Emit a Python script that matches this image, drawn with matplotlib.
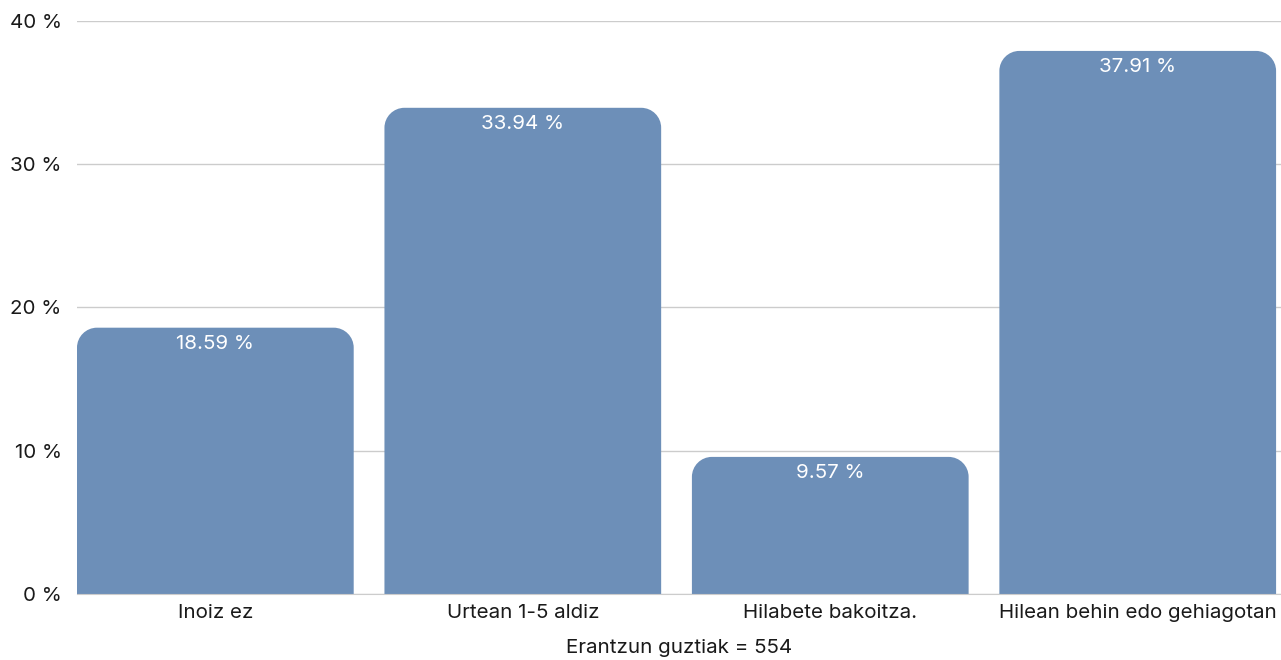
import matplotlib
matplotlib.use("Agg")
import matplotlib.pyplot as plt
from matplotlib.path import Path
from matplotlib.patches import PathPatch

categories = ["Inoiz ez", "Urtean 1-5 aldiz", "Hilabete bakoitza.", "Hilean behin edo gehiagotan"]
values = [18.59, 33.94, 9.57, 37.91]
yticks = [0, 10, 20, 30, 40]
xlabel = "Erantzun guztiak = 554"

plt.rcParams['font.family'] = ['Inter', 'DejaVu Sans']

bar_color = '#6d8fb8'
text_color = '#1a1a1a'
fs = 14.8
fig = plt.figure(figsize=(12.81, 6.6), dpi=100)
ax = fig.add_axes([0.0601, 0.1, 0.9399, 0.8682])

width = 0.9
x = list(range(len(categories)))
bars = ax.bar(x, values, width=width, color=bar_color, zorder=2)
ax.set_xlim(-width / 2, 3.466)
ax.set_ylim(0, 40)


def rounded_top(bar, rx, ry):
    x0, y0 = bar.get_x(), bar.get_y()
    w, h = bar.get_width(), bar.get_height()
    x1, y1 = x0 + w, y0 + h
    k = 0.5523
    verts = [(x0, y0), (x0, y1 - ry),
             (x0, y1 - ry + k * ry), (x0 + rx - k * rx, y1), (x0 + rx, y1),
             (x1 - rx, y1),
             (x1 - rx + k * rx, y1), (x1, y1 - ry + k * ry), (x1, y1 - ry),
             (x1, y0), (x0, y0)]
    codes = [Path.MOVETO, Path.LINETO,
             Path.CURVE4, Path.CURVE4, Path.CURVE4,
             Path.LINETO,
             Path.CURVE4, Path.CURVE4, Path.CURVE4,
             Path.LINETO, Path.CLOSEPOLY]
    return Path(verts, codes)


# corner radius of about 20 px, converted to data units
fig.canvas.draw()
inv = ax.transData.inverted()
p0 = inv.transform((0, 0))
p1 = inv.transform((20, 20))
rx, ry = p1[0] - p0[0], p1[1] - p0[1]

for b, v in zip(bars, values):
    b.set_visible(False)
    ax.add_patch(PathPatch(rounded_top(b, rx, ry), facecolor=bar_color,
                           edgecolor='none', zorder=2))
    ax.annotate(f"{v:.2f} %", (b.get_x() + b.get_width() / 2, v),
                xytext=(0, -11.5), textcoords='offset points',
                ha='center', va='center', color='white', fontsize=fs, zorder=3)

ax.set_yticks(yticks)
ax.set_yticklabels([f"{t} %" for t in yticks], fontsize=fs, color=text_color)
ax.set_xticks(x)
ax.set_xticklabels(categories, fontsize=fs, color=text_color)
ax.set_xlabel(xlabel, fontsize=fs, color=text_color, labelpad=12.5)
ax.tick_params(axis='both', length=0)
ax.tick_params(axis='y', pad=11)
ax.tick_params(axis='x', pad=7)
ax.grid(axis='y', color='#cccccc', linewidth=1, zorder=0)
for s in ['top', 'right', 'left']:
    ax.spines[s].set_visible(False)
ax.spines['bottom'].set_color('#cccccc')

fig.savefig('out.png', dpi=100)
